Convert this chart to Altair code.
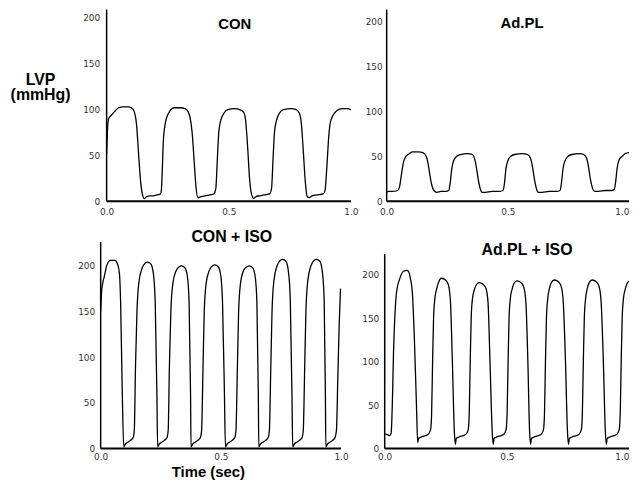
import altair as alt
import pandas as pd

# ---------------- data ----------------
con_t = [0.000, 0.004, 0.008, 0.020, 0.033, 0.049, 0.065, 0.089, 0.106, 0.114,
         0.122, 0.130, 0.138, 0.146, 0.154, 0.163, 0.175, 0.191, 0.207, 0.220,
         0.224, 0.228, 0.232, 0.240, 0.248, 0.260, 0.276, 0.301, 0.321, 0.333,
         0.341, 0.350, 0.358, 0.366, 0.374, 0.386, 0.402, 0.423, 0.439, 0.447,
         0.453, 0.459, 0.467, 0.480, 0.496, 0.524, 0.545, 0.561, 0.569, 0.577,
         0.585, 0.593, 0.602, 0.610, 0.626, 0.646, 0.667, 0.675, 0.681, 0.687,
         0.695, 0.707, 0.724, 0.756, 0.776, 0.789, 0.797, 0.805, 0.813, 0.821,
         0.829, 0.841, 0.862, 0.886, 0.894, 0.902, 0.909, 0.915, 0.927, 0.943,
         0.963, 0.984, 1.000]
con_p = [52, 80, 90, 94, 98, 102, 103, 103, 101, 97,
         85, 55, 25, 8, 3, 5, 6, 6, 7, 8,
         12, 35, 65, 85, 93, 99, 102, 102, 101, 98,
         92, 75, 45, 15, 4, 5, 6, 7, 8, 14,
         45, 75, 88, 96, 100, 101, 100, 97, 88, 60,
         25, 8, 3, 5, 6, 7, 8, 14, 45, 75,
         88, 96, 100, 101, 100, 96, 85, 55, 22, 5,
         4, 6, 7, 8, 12, 40, 70, 85, 94, 99,
         101, 101, 100]

adpl_t = [0.000, 0.008, 0.024, 0.045, 0.053, 0.061, 0.069, 0.077, 0.089, 0.106,
          0.130, 0.150, 0.163, 0.171, 0.179, 0.187, 0.195, 0.207, 0.224, 0.244,
          0.256, 0.262, 0.268, 0.276, 0.289, 0.305, 0.333, 0.354, 0.362, 0.370,
          0.378, 0.386, 0.394, 0.407, 0.435, 0.463, 0.480, 0.486, 0.492, 0.500,
          0.512, 0.528, 0.561, 0.581, 0.593, 0.602, 0.610, 0.618, 0.626, 0.642,
          0.671, 0.699, 0.715, 0.722, 0.728, 0.736, 0.748, 0.764, 0.797, 0.813,
          0.825, 0.833, 0.841, 0.850, 0.858, 0.874, 0.902, 0.927, 0.939, 0.945,
          0.951, 0.959, 0.972, 0.984, 1.000]
adpl_p = [10, 11, 11, 12, 16, 30, 43, 49, 52, 55,
          55, 54, 50, 42, 28, 17, 12, 10, 11, 11,
          12, 20, 35, 45, 50, 52, 53, 52, 48, 38,
          24, 14, 10, 10, 11, 11, 12, 20, 36, 45,
          50, 52, 53, 52, 48, 38, 24, 14, 10, 10,
          11, 11, 12, 22, 37, 45, 50, 52, 53, 52,
          48, 38, 24, 14, 11, 11, 12, 12, 13, 22,
          37, 46, 50, 53, 54]

coniso_t = [0.000, 0.004, 0.010, 0.015, 0.025, 0.040, 0.060, 0.070, 0.078, 0.083, 0.090, 0.096,
            0.103, 0.113, 0.124, 0.135, 0.140, 0.145, 0.151, 0.159, 0.172, 0.186, 0.195, 0.209, 0.220, 0.227, 0.234, 0.237,
            0.244, 0.254, 0.265, 0.276, 0.281, 0.286, 0.292, 0.300, 0.313, 0.327, 0.336, 0.350, 0.361, 0.368, 0.374, 0.376,
            0.383, 0.393, 0.404, 0.415, 0.420, 0.426, 0.431, 0.439, 0.452, 0.466, 0.475, 0.489, 0.500, 0.507, 0.515, 0.519,
            0.526, 0.536, 0.547, 0.558, 0.563, 0.569, 0.574, 0.582, 0.595, 0.609, 0.618, 0.632, 0.643, 0.650, 0.656, 0.658,
            0.665, 0.675, 0.686, 0.697, 0.702, 0.708, 0.713, 0.721, 0.734, 0.748, 0.757, 0.771, 0.782, 0.789, 0.796, 0.799,
            0.806, 0.816, 0.827, 0.838, 0.843, 0.849, 0.854, 0.862, 0.875, 0.889, 0.898, 0.912, 0.923, 0.930, 0.935, 0.937,
            0.944, 0.954, 0.965, 0.975, 0.981, 0.987, 0.993, 0.998]
coniso_p = [150, 172, 183, 188, 200, 206, 206, 202, 192, 160, 60, 2,
            5, 7, 9, 12, 20, 90, 150, 182, 197, 203, 204, 202, 190, 160, 60, 2,
            5, 7, 9, 12, 20, 90, 150, 180, 194, 199, 200, 198, 188, 160, 60, 2,
            5, 7, 9, 12, 20, 90, 150, 181, 195, 200, 201, 199, 189, 160, 60, 2,
            5, 7, 9, 12, 20, 90, 150, 181, 195, 199, 200, 198, 188, 160, 60, 2,
            5, 7, 9, 12, 20, 90, 150, 184, 200, 206, 207, 205, 192, 162, 60, 2,
            5, 7, 9, 12, 20, 90, 150, 184, 200, 206, 207, 205, 192, 162, 60, 2,
            5, 7, 9, 12, 20, 80, 140, 175]

adpliso_t = [0.000, 0.012, 0.020, 0.026, 0.028, 0.032, 0.036, 0.043, 0.049, 0.061, 0.077, 0.089, 0.097, 0.105, 0.113, 0.121, 0.130,
             0.135, 0.139, 0.147, 0.155, 0.167, 0.180, 0.188, 0.192, 0.196, 0.200, 0.205, 0.212, 0.220, 0.232, 0.244, 0.252, 0.261, 0.269, 0.277, 0.285,
             0.289, 0.293, 0.301, 0.309, 0.321, 0.334, 0.342, 0.346, 0.350, 0.354, 0.359, 0.366, 0.374, 0.386, 0.398, 0.406, 0.415, 0.423, 0.431, 0.440,
             0.444, 0.448, 0.456, 0.464, 0.476, 0.489, 0.497, 0.501, 0.505, 0.509, 0.514, 0.521, 0.529, 0.541, 0.553, 0.561, 0.570, 0.578, 0.586, 0.593,
             0.597, 0.601, 0.609, 0.617, 0.629, 0.642, 0.650, 0.654, 0.658, 0.662, 0.667, 0.674, 0.682, 0.694, 0.706, 0.714, 0.723, 0.731, 0.740, 0.748,
             0.752, 0.756, 0.764, 0.772, 0.784, 0.797, 0.805, 0.809, 0.813, 0.817, 0.822, 0.829, 0.837, 0.849, 0.861, 0.869, 0.878, 0.886, 0.895, 0.903,
             0.907, 0.911, 0.919, 0.927, 0.939, 0.952, 0.960, 0.964, 0.968, 0.972, 0.977, 0.984, 0.992, 1.000]
adpliso_p = [17, 16, 15, 17, 25, 60, 110, 160, 181, 195, 204, 205, 204, 196, 180, 130, 50,
             7, 12, 13, 14, 15, 17, 22, 40, 100, 150, 172, 183, 191, 196, 195, 193, 188, 170, 100, 20,
             5, 12, 13, 14, 15, 17, 22, 40, 100, 150, 172, 182, 188, 191, 190, 188, 184, 168, 100, 20,
             5, 12, 13, 14, 15, 17, 22, 40, 100, 150, 172, 183, 190, 193, 192, 190, 185, 168, 100, 20,
             5, 12, 13, 14, 15, 17, 22, 40, 100, 150, 172, 184, 191, 194, 193, 191, 186, 168, 100, 20,
             5, 12, 13, 14, 15, 17, 22, 40, 100, 150, 172, 184, 191, 194, 193, 191, 186, 168, 100, 20,
             5, 12, 13, 14, 15, 17, 22, 40, 100, 150, 172, 183, 190, 193]

titles = ["CON", "Ad.PL", "CON + ISO", "Ad.PL + ISO"]
y_ticks = [0, 50, 100, 150, 200]
x_ticks = [0.0, 0.5, 1.0]

TITLE_FONT = "Liberation Sans"
LABEL_FONT = "DejaVu Sans"


def panel(t, p, title, width, height, xdom, ydom, axis_top, ylabpad, xlabpad,
          tdx, toff, tsize, flush, flush_off, ytitle=None, xtitle=None):
    df = pd.DataFrame({"t": t, "p": p})
    yaxis_kw = dict(values=y_ticks, domain=False, ticks=False, tickSize=0, grid=False,
                    labelPadding=ylabpad, labelFont=LABEL_FONT, labelFontSize=9,
                    labelColor="#333")
    if ytitle is not None:
        yaxis_kw.update(title=ytitle, titleAngle=0, titleX=-61, titleY=62,
                        titleAlign="center", titleBaseline="top",
                        titleFont=TITLE_FONT, titleFontSize=16, titleFontWeight="bold",
                        titleLineHeight=16, titleColor="black")
    else:
        yaxis_kw.update(title=None)
    xaxis_kw = dict(values=x_ticks, format=".1f", domain=False, ticks=False, tickSize=0,
                    grid=False, labelPadding=xlabpad, labelFont=LABEL_FONT, labelFontSize=9,
                    labelColor="#333", labelFlush=flush, labelFlushOffset=flush_off)
    if xtitle is not None:
        xaxis_kw.update(title=xtitle, titleX=108, titleY=23, titleAlign="center",
                        titleBaseline="middle", titleFont=TITLE_FONT, titleFontSize=15,
                        titleFontWeight="bold", titleColor="black")
    else:
        xaxis_kw.update(title=None)

    x = alt.X("t:Q", scale=alt.Scale(domain=xdom, nice=False, zero=False),
              axis=alt.Axis(**xaxis_kw))
    y = alt.Y("p:Q", scale=alt.Scale(domain=ydom, nice=False, zero=False),
              axis=alt.Axis(**yaxis_kw))
    line = alt.Chart(df).mark_line(color="black", strokeWidth=1.3,
                                   interpolate="monotone").encode(x=x, y=y)
    one = pd.DataFrame({"v": [0]})
    xrule = alt.Chart(one).mark_rule(color="black", strokeWidth=2).encode(
        x=alt.datum(0), x2=alt.datum(1), y=alt.datum(0))
    yrule = alt.Chart(one).mark_rule(color="black", strokeWidth=1.5).encode(
        x=alt.datum(0), y=alt.datum(0), y2=alt.datum(axis_top))
    return alt.layer(line, xrule, yrule).properties(
        width=width, height=height,
        title=alt.TitleParams(text=title, font=TITLE_FONT, fontSize=tsize,
                              fontWeight="bold", color="black", anchor="middle",
                              frame="group", baseline="middle", offset=toff, dx=tdx))


p1 = panel(con_t, con_p, titles[0], 252, 193, [-0.0244, 1.0], [0, 209], 209, 1, 6,
           9, -30, 15, False, 0, ytitle=["LVP", "(mmHg)"])
p2 = panel(adpl_t, adpl_p, titles[1], 247.5, 193, [-0.0143, 1.0], [0, 213], 213, 1, 6,
           16, -29, 15, True, 0)
p3 = panel(coniso_t, coniso_p, titles[2], 242, 208, [0.0, 1.0], [0, 226], 226, 6, 4,
           11, -12, 16, False, 0, xtitle="Time (sec)")
p4 = panel(adpliso_t, adpliso_p, titles[3], 247.5, 208, [-0.0061, 1.0], [0, 237.7], 224, 4.5, 4,
           21, -24, 16, True, 0)

chart = alt.concat(p1, p2, p3, p4, columns=2, spacing={"row": 41, "column": 32.5},
                   bounds="flush").properties(
    padding={"left": 1.3, "top": -1, "right": 0, "bottom": 0},
    background="white",
).configure_view(strokeWidth=0)

chart.save("out.html", embed_options={"renderer": "svg", "actions": False})
